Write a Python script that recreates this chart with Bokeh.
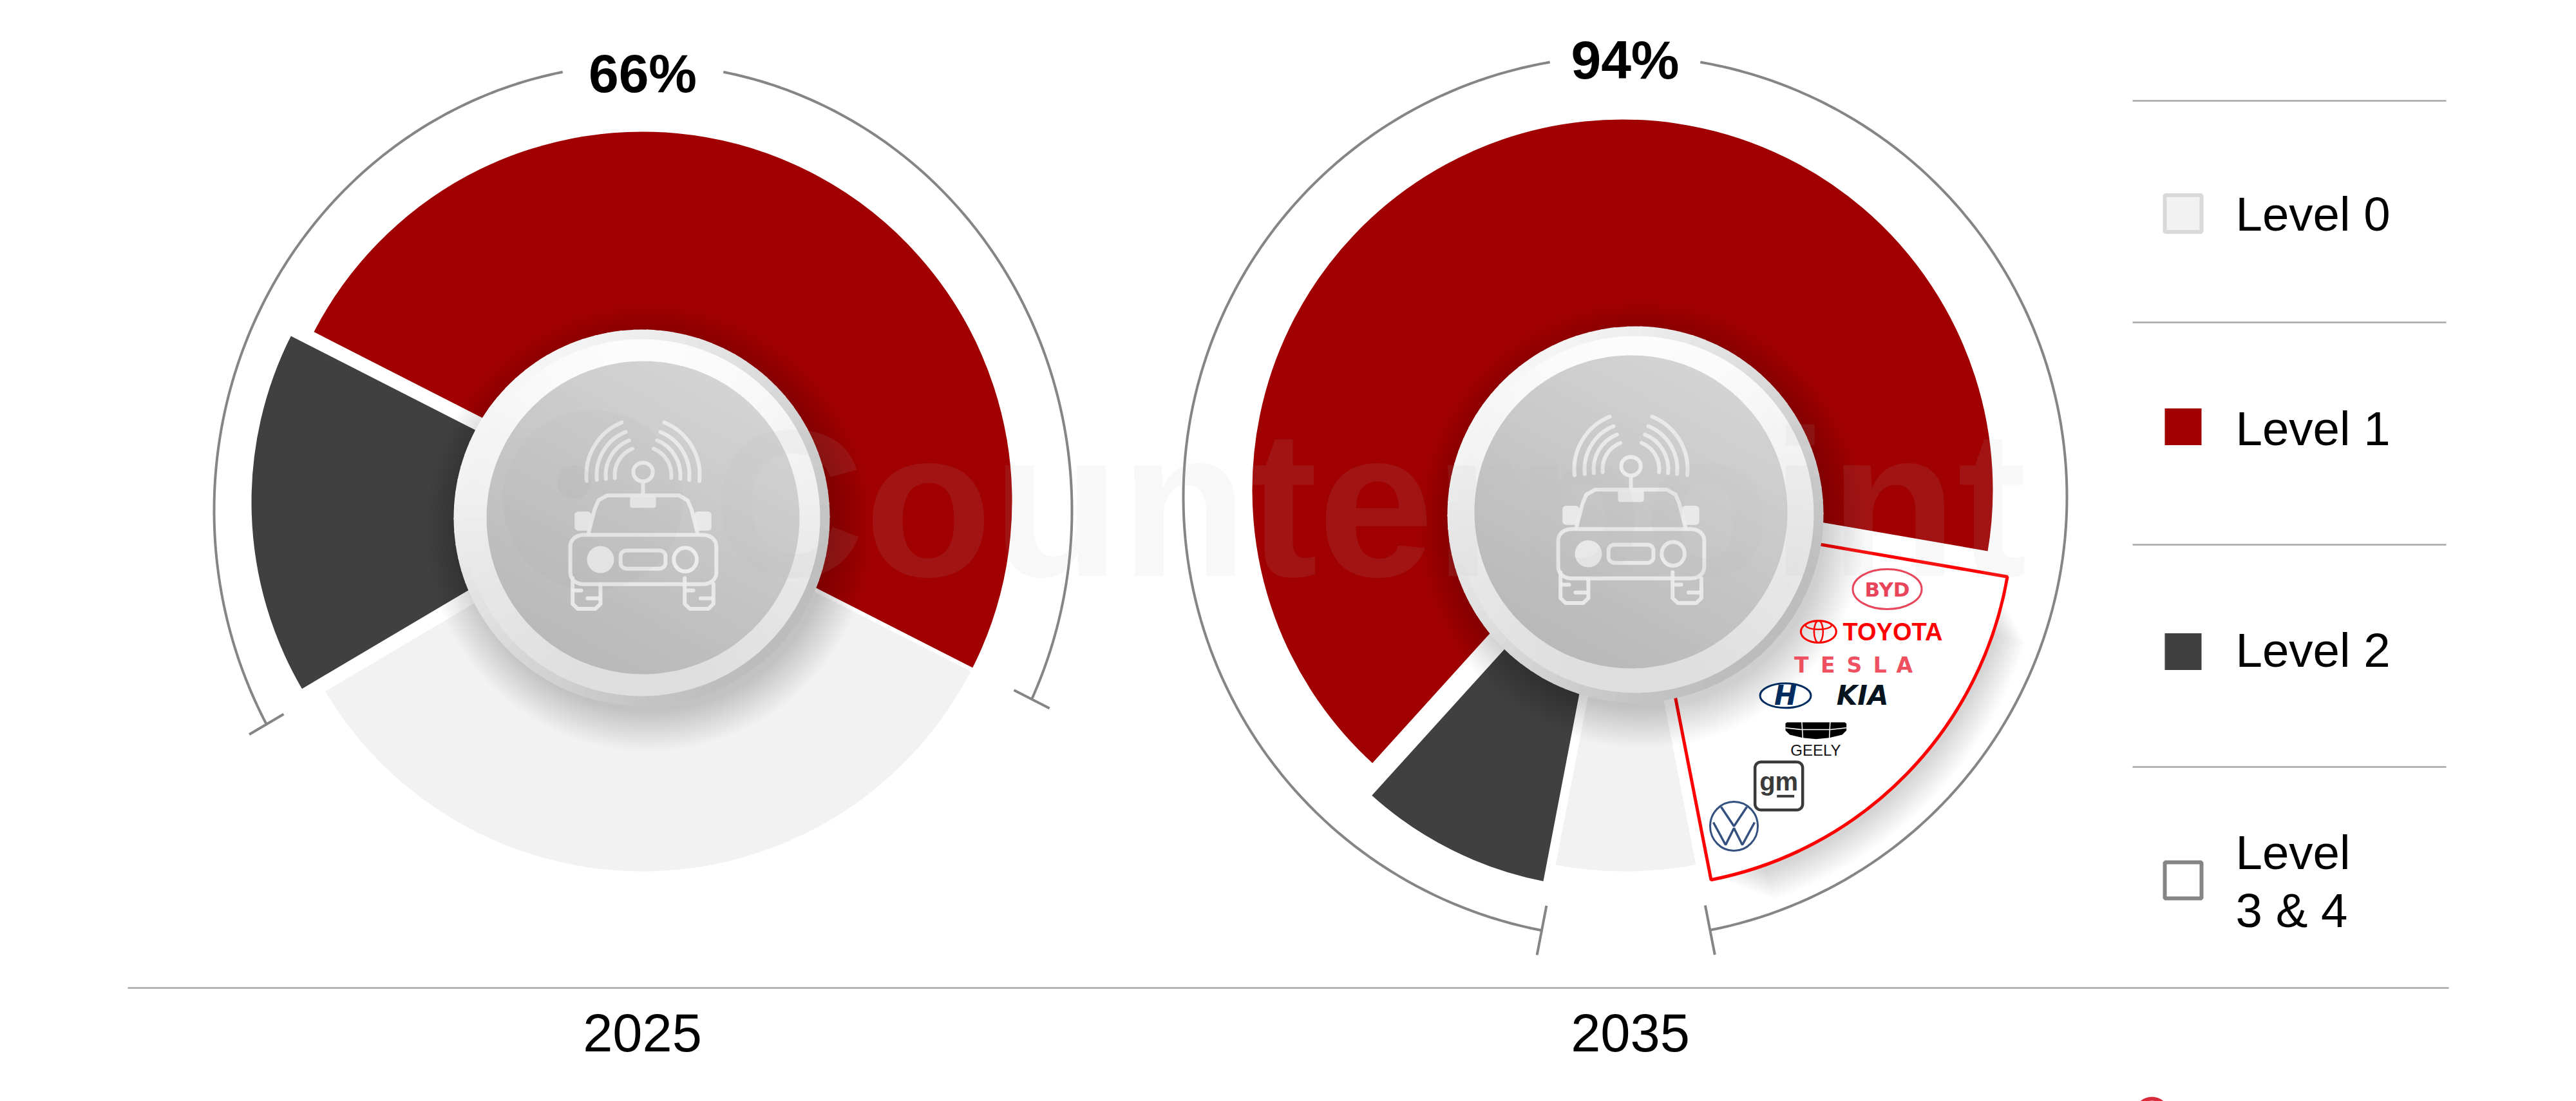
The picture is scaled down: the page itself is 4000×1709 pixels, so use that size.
import math

import numpy as np
from bokeh.core.properties import value
from bokeh.embed import file_html
from bokeh.models import Range1d
from bokeh.plotting import figure
from bokeh.resources import INLINE

# chart data
years = ["2025", "2035"]
totals = ["66%", "94%"]
level_names = ["Level 0", "Level 1", "Level 2"]
level_1 = [50, 66]
level_2 = [16, 8.7]
level_0 = [34, 6.1]
level_3_4 = [0, 19.2]

RED = "#a00000"
DARK = "#404040"
LIGHT = "#f2f2f2"
GREY = "#858585"
RULE = "#a6a6a6"
FONT = value("Liberation Sans")

W, H = 4000, 1709

# page pixels are used as data units, y flipped
p = figure(width=W, height=H, output_backend="svg", toolbar_location=None,
           x_range=Range1d(0, W), y_range=Range1d(0, H), min_border=0)
p.axis.visible = False
p.grid.visible = False
p.outline_line_color = None
p.background_fill_color = "white"
p.border_fill_color = "white"


def Y(py):
    return H - py


def label(x, y, txt, size, color="black", style="normal", align="center", font=FONT, alpha=1.0):
    p.text([x], [Y(y)], text=[txt], text_font=font, text_font_size=value(f"{size}px"),
           text_font_style=style, text_color=color, text_align=align, text_baseline="middle", text_alpha=alpha)


def pct(v):
    return v * 3.6


def wedge(cx, cy, r, a0, a1, color, line="white", lw=6):
    return p.wedge([cx], [Y(cy)], radius=r, start_angle=math.radians(a0), end_angle=math.radians(a1),
                   fill_color=color, line_color=line, line_width=lw)


def rounded(x0, y0, x1, y1, r):
    pts = []
    for cx, cy, a in [(x1 - r, y0 + r, -90), (x1 - r, y1 - r, 0), (x0 + r, y1 - r, 90), (x0 + r, y0 + r, 180)]:
        for t in np.linspace(0, 90, 7):
            pts.append((cx + r * math.cos(math.radians(a + t)), cy + r * math.sin(math.radians(a + t))))
    pts.append(pts[0])
    return pts


def mix(c0, c1, t):
    v = [round(a + (b - a) * t) for a, b in zip(c0, c1)]
    return "#%02x%02x%02x" % tuple(v)


def ring(cx, cy, r0, r1, fn, n=90):
    a = np.linspace(0, 360, n + 1)
    colors = [fn(x) for x in a[:-1] + 180 / n]
    p.annular_wedge([cx] * n, [Y(cy)] * n, inner_radius=r0, outer_radius=r1,
                    start_angle=np.radians(a[:-1]), end_angle=np.radians(a[1:] + 0.6),
                    fill_color=colors, line_color=None)


def disc(cx, cy, ix, iy):
    for k in range(16):
        p.circle([cx + 10], [Y(cy + 16)], radius=282 + (16 - k) * 4, fill_color="black", fill_alpha=0.01, line_color=None)
    # inner gradient, strips across the disc
    n = 40
    ang = math.radians(62)
    ts = np.linspace(-254, 254, n)
    for t in ts:
        chord = 2 * math.sqrt(max(254 ** 2 - t ** 2, 0)) + 4
        col = mix((0xb8, 0xb8, 0xb8), (0xd4, 0xd4, 0xd4), (t + 254) / 508)
        p.rect([ix + t * math.cos(ang)], [Y(iy) + t * math.sin(ang)], width=chord, height=15,
               angle=ang - math.pi / 2, fill_color=col, line_color=None)
    # white ring, its hole follows the inner disc
    ring(ix, iy, 243, 270, lambda a: mix((0xde, 0xde, 0xde), (0xfc, 0xfc, 0xfc), 0.5 + 0.5 * math.sin(math.radians(a))))
    ring(cx, cy, 262, 278, lambda a: mix((0xde, 0xde, 0xde), (0xfc, 0xfc, 0xfc), 0.5 + 0.5 * math.sin(math.radians(a))))
    ring(cx, cy, 277, 292, lambda a: mix((0xbc, 0xbc, 0xbc), (0xf6, 0xf6, 0xf6), 0.5 + 0.5 * math.cos(math.radians(a - 135))))


def car_icon(cx, cy):
    color = "#ececec"
    lw = 6

    def zx(x):
        return cx + (x - 780) / 2.24

    def zy(y):
        return cy + (y - 845) / 2.613

    def path(pts, fill=False):
        xs = [zx(a) for a, b in pts]
        ys = [Y(zy(b)) for a, b in pts]
        if fill:
            p.patch(xs, ys, fill_color=color, line_color=None, fill_alpha=0.9)
        else:
            p.line(xs, ys, line_color=color, line_width=lw, line_alpha=0.9, line_cap="round", line_join="round")

    # antenna and signal waves
    p.ellipse([zx(780)], [Y(zy(660))], width=68 / 2.24, height=76 / 2.613, fill_color=None, line_color=color, line_width=lw)
    path([(780, 705), (780, 752)])
    for r in [88, 72, 58, 44]:
        for a0, a1 in [(112, 186), (-6, 68)]:
            p.arc([zx(780)], [Y(zy(672))], radius=r, start_angle=math.radians(a0), end_angle=math.radians(a1),
                  line_color=color, line_width=lw, line_cap="round", line_alpha=0.9)
    # roof
    path([(590, 910), (612, 810), (625, 775), (655, 755), (905, 755), (935, 775), (948, 810), (970, 910)])
    path(rounded(735, 755, 825, 805, 8), fill=True)
    path(rounded(542, 820, 600, 898, 14), fill=True)
    path(rounded(958, 820, 1018, 898, 14), fill=True)
    # body
    path(rounded(527, 915, 1035, 1115, 45))
    p.ellipse([zx(632)], [Y(zy(1015))], width=94 / 2.24, height=110 / 2.613, fill_color=color, line_color=None, fill_alpha=0.9)
    p.ellipse([zx(927)], [Y(zy(1015))], width=80 / 2.24, height=96 / 2.613, fill_color=None, line_color=color, line_width=lw)
    path(rounded(702, 978, 858, 1052, 22))
    # wheels
    for x0, x1 in [(535, 632), (925, 1025)]:
        path([(x0, 1090), (x0, 1195), (x0 + 18, 1215), (x1 - 18, 1215), (x1, 1195), (x1, 1115)])
        path([(x0 + 5, 1140), (x0 + 30, 1140)])
        path([(x1 - 45, 1172), (x1 - 5, 1172)])


def logos():
    zx = lambda x: 2600 + x / 3
    zy = lambda y: 800 + y / 3
    tesla = "#ee5060"
    byd = "#e8455a"
    red = "#ff0000"
    navy = "#002c5f"

    # BYD
    p.ellipse([zx(990)], [Y(zy(342))], width=107, height=62, fill_color=None, line_color=byd, line_width=3)
    label(zx(990), zy(342), "BYD", 31, byd, "bold", font=value("DejaVu Sans"))
    # Toyota
    p.ellipse([zx(670)], [Y(zy(540))], width=55, height=34, fill_color=None, line_color=red, line_width=3)
    p.ellipse([zx(670)], [Y(zy(540))], width=14, height=34, fill_color=None, line_color=red, line_width=2.5)
    p.ellipse([zx(670)], [Y(zy(510))], width=40, height=13, fill_color=None, line_color=red, line_width=2.5)
    label(zx(783), zy(540), "TOYOTA", 38, red, "bold", align="left")
    # Tesla
    for letter, x in zip("TESLA", [590, 713, 837, 956, 1070]):
        label(zx(x), zy(696), letter, 33, tesla, "bold", font=value("DejaVu Sans"))
    # Hyundai
    p.ellipse([zx(516)], [Y(zy(838))], width=79, height=38, fill_color="white", line_color=navy, line_width=3)
    label(zx(516), zy(838), "H", 42, navy, "bold italic", font=value("DejaVu Sans"))
    # Kia
    label(zx(875), zy(838), "KIA", 42, "#05141f", "bold italic", font=value("DejaVu Sans"))
    # Geely
    bx = [516, 522, 792, 800, 800, 780, 720, 658, 596, 536, 516]
    by = [968, 962, 962, 968, 1000, 1020, 1034, 1040, 1034, 1020, 1000]
    p.patch([zx(a) for a in bx], [Y(zy(b)) for b in by], fill_color="black", line_color=None)
    for x0, x1 in [(592, 597), (724, 720)]:
        p.line([zx(x0), zx(x1)], [Y(zy(960)), Y(zy(1040))], line_color="white", line_width=1.5)
    p.line([zx(516), zx(590), zx(726), zx(800)], [Y(zy(988)), Y(zy(996)), Y(zy(996)), Y(zy(988))],
           line_color="white", line_width=1.5)
    label(zx(657), zy(1092), "GEELY", 24, "#111111")
    # GM
    pts = rounded(zx(374), zy(1147), zx(596), zy(1370), 9)
    p.line([a for a, b in pts], [Y(b) for a, b in pts], line_color="#3a3a3a", line_width=4.5)
    label(zx(485), zy(1236), "gm", 40, "#3a3a3a", "bold")
    p.line([zx(476), zx(557)], [Y(zy(1306)), Y(zy(1306))], line_color="#3a3a3a", line_width=4)
    # VW
    vx = lambda x: 2692 + x
    vy = lambda y: 1282 + y
    p.ellipse([vx(0)], [Y(vy(0))], width=74, height=76, fill_color="white", line_color="#33507f", line_width=3)
    for seg in [[(-20, -30), (0, 0), (20, -30)], [(-32, -6), (-13, 29), (0, 3), (13, 29), (32, -6)]]:
        p.line([vx(a) for a, b in seg], [Y(vy(b)) for a, b in seg], line_color="#33507f", line_width=3.5)


centres = [(997, 778), (2519, 760)]
radii = [574, 575]
starts = [-27, -9.8]
dark_apex = [(964, 779), (2505, 816)]
dark_r = [574, 562]
light_apex = [(997, 778), (2523, 765)]
light_r = [574, 587]
arc_centres = [(998, 792), (2523, 771)]
arc_rx = [666, 686]
arc_ry = [693, 685]
arc_trim = [2, 0]
arc_gap = [10.8, 9.8]
tick_half = [31, 39]
disc_centres = [(996, 803), (2539, 798)]
inner_centres = [(998, 803), (2532, 794)]
total_x = [997.5, 2523]
total_y = [113, 92]
year_x = [997, 2531]

for i, year in enumerate(years):
    cx, cy = centres[i]
    a0 = starts[i]
    a1 = a0 + pct(level_1[i])
    a2 = a1 + pct(level_2[i])
    a3 = a2 + pct(level_0[i])
    a4 = a3 + pct(level_3_4[i])

    wedge(light_apex[i][0], light_apex[i][1], light_r[i] + 3, a2, a3, LIGHT)
    wedge(cx, cy, radii[i] + 3, a0, a1, RED)
    wedge(dark_apex[i][0], dark_apex[i][1], dark_r[i] + 3, a1, a2, DARK)

    # the callout of the 2035 pie
    if level_3_4[i] > 0:
        ox, oy = 2545, 796
        for k in range(14):
            g = wedge(ox + 8, oy + 12, 572 + (14 - k) * 3.5, a3 + 1.5 + (14 - k) * 0.45, a4 - 3 - (14 - k) * 0.35, "black", None, 0)
            g.glyph.fill_alpha = 0.012
        wedge(ox, oy, 580, a3, a4, "white", "#ff0000", 5)

    disc(*disc_centres[i], *inner_centres[i])
    car_icon(*inner_centres[i])

    # bracket over the connected share
    ax, ay = arc_centres[i]
    rx, ry = arc_rx[i], arc_ry[i]
    gap = arc_gap[i]
    a_from = a3 if level_3_4[i] > 0 else a0
    a_from = a_from - 360 if a_from > a2 else a_from
    t_from, t_to = a_from + arc_trim[i], a2 - arc_trim[i]

    for s, e in [(t_from, 90 - gap), (90 + gap, t_to)]:
        angles = np.radians(np.linspace(s, e, 120))
        p.line(ax + rx * np.cos(angles), Y(ay) + ry * np.sin(angles), line_color=GREY, line_width=4)
    for a, t in [(a_from, t_from), (a2, t_to)]:
        ca, sa = math.cos(math.radians(a)), math.sin(math.radians(a))
        jx = ax + rx * math.cos(math.radians(t))
        jy = Y(ay) + ry * math.sin(math.radians(t))
        h = tick_half[i]
        p.line([jx - h * ca, jx + h * ca], [jy - h * sa, jy + h * sa], line_color=GREY, line_width=4)

    label(total_x[i], total_y[i], totals[i], 84, "black", "bold")
    label(year_x[i], 1602, year, 83)

# faint watermark
label(1107, 781, "Counterpoint", 325, "#b8b8b8", "bold", align="left", alpha=0.1)
p.circle([920], [Y(776)], radius=140, fill_color="#808080", fill_alpha=0.04, line_color=None)
p.circle([891], [Y(748)], radius=26, fill_color="#808080", fill_alpha=0.06, line_color=None)

logos()

# legend
for y in [156, 500, 845, 1190]:
    p.line([3311, 3798], [Y(y), Y(y)], line_color=RULE, line_width=2.5)
p.line([198, 3802], [Y(1533), Y(1533)], line_color=RULE, line_width=2.5)

swatch_y = [331, 662, 1011]
swatch_fill = [LIGHT, RED, DARK]
swatch_line = ["#d9d9d9", RED, DARK]
text_y = [331.5, 665, 1009]
for y, ty, fill, line, name in zip(swatch_y, text_y, swatch_fill, swatch_line, level_names):
    p.rect([3389.5], [Y(y)], width=57, height=57, fill_color=fill, line_color=line, line_width=6 if fill == LIGHT else 0)
    label(3471, ty, name, 74.5, align="left")
p.rect([3389.5], [Y(1366)], width=57, height=56, fill_color="white", line_color=GREY, line_width=6)
label(3471, 1323, "Level", 74.5, align="left")
label(3471, 1413, "3 & 4", 74.5, align="left")

# top of a clipped logo at the foot of the page
p.ellipse([3341], [Y(1728)], width=48, height=46, fill_color=None, line_color="#d92b3a", line_width=6)

open("out.html", "w").write(file_html(p, INLINE))
